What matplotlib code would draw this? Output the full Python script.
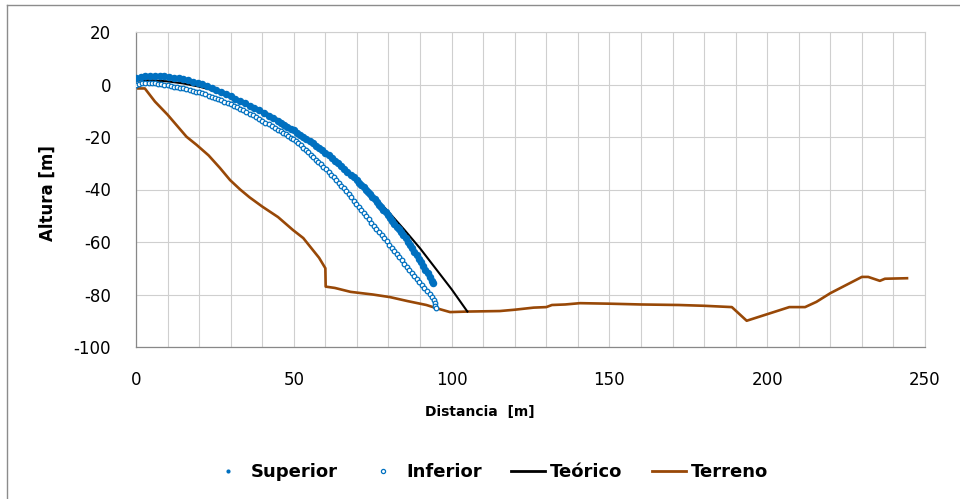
import matplotlib
matplotlib.use("Agg")
import matplotlib.pyplot as plt
from matplotlib.lines import Line2D

plt.rcParams["axes.unicode_minus"] = False

# --- data ---
sup_x = [0, 1.5, 3, 4.5, 6, 7.5, 9, 10.5, 12, 13.5, 15, 16.5, 18, 19.5, 21, 22.5, 24, 25.5, 27, 28.5,
         30, 31.5, 33, 34.5, 36, 37.5, 39, 40.5, 42, 43.5, 45,
         46, 47, 48, 49, 50, 51, 52, 53, 54, 55, 56, 57, 58, 59, 60, 61, 62, 63, 64, 65, 66, 67, 68, 69, 70,
         70.7, 71.4, 72.1, 72.8, 73.5, 74.2, 74.9, 75.6, 76.3, 77, 77.7, 78.4, 79.1, 79.8, 80.5, 81.2,
         81.9, 82.6, 83.3, 84, 84.7, 85.4, 86.1, 86.8, 87.5, 88.2, 88.9, 89.6, 90.3, 91, 91.7, 92.4,
         93.1, 93.8, 94.2]
sup_y = [2.5, 3.0, 3.3, 3.3, 3.3, 3.2, 3.1, 2.8, 2.6, 2.3, 2.0, 1.6, 1.1, 0.7, 0.1, -0.6, -1.3, -2.1, -2.9, -3.7,
         -4.5, -5.4, -6.3, -7.2, -8.1, -9.0, -9.9, -10.8, -11.9, -12.9, -14.0,
         -14.7, -15.4, -16.1, -16.8, -17.5, -18.3, -19.1, -19.9, -20.7, -21.5, -22.4, -23.3, -24.2, -25.1,
         -26.0, -27.0, -28.0, -29.0, -30.0, -31.0, -32.1, -33.2, -34.3, -35.4, -36.5,
         -37.4, -38.3, -39.2, -40.1, -41.0, -41.9, -42.9, -43.8, -44.8, -45.8, -46.8, -47.8, -48.7, -49.7,
         -50.8, -51.9, -53.0, -54.1, -55.2, -56.3, -57.4, -58.6, -59.9, -61.1, -62.4, -63.7, -65.0, -66.3,
         -67.7, -69.1, -70.5, -71.9, -73.3, -74.7, -75.5]

inf_x = [0, 1, 2, 3, 4, 5, 6, 7, 8, 9, 10, 11, 12, 13, 14, 15, 16, 17, 18, 19, 20, 21, 22, 23, 24, 25,
         26, 27, 28, 29, 30, 31, 32, 33, 34, 35, 36, 37, 38, 39, 40, 41, 42, 43, 44, 45,
         45.8, 46.6, 47.4, 48.2, 49, 49.8, 50.6, 51.4, 52.2, 53, 53.8, 54.6, 55.4, 56.2, 57, 57.8, 58.6,
         59.4, 60.2, 61, 61.8, 62.6, 63.4, 64.2, 65, 65.8, 66.6, 67.4, 68.2, 69, 69.8, 70.6, 71.4, 72.2,
         73, 73.8, 74.6, 75.4, 76.2, 77, 77.8, 78.6, 79.4, 80.2, 81, 81.8, 82.6, 83.4, 84.2, 85, 85.8,
         86.6, 87.4, 88.2, 89, 89.8, 90.6, 91.4, 92.2, 93, 93.8, 94.3, 94.6, 94.8, 94.9]
inf_y = [0.0, 0.2, 0.4, 0.5, 0.5, 0.5, 0.4, 0.3, 0.1, -0.1, -0.3, -0.5, -0.8, -1.0, -1.3, -1.5, -1.8,
         -2.1, -2.4, -2.7, -3.0, -3.4, -3.8, -4.2, -4.6, -5.0, -5.5, -6.0, -6.5, -7.0, -7.5, -8.1, -8.7,
         -9.3, -9.9, -10.5, -11.1, -11.8, -12.4, -13.1, -13.8, -14.5, -15.2, -15.8, -16.5, -17.2,
         -17.8, -18.4, -19.0, -19.6, -20.3, -20.9, -21.6, -22.4, -23.2, -24.1, -24.9, -25.8, -26.7, -27.6,
         -28.6, -29.5, -30.4, -31.3, -32.3, -33.3, -34.3, -35.3, -36.4, -37.4, -38.5, -39.6, -40.7, -41.8,
         -43.0, -44.2, -45.4, -46.6, -47.8, -49.0, -50.2, -51.4, -52.6, -53.8, -55.0, -56.2, -57.4, -58.6,
         -59.8, -61.0, -62.2, -63.4, -64.6, -65.8, -67.0, -68.2, -69.4, -70.6, -71.7, -72.9, -74.1, -75.3,
         -76.4, -77.6, -78.7, -79.9, -81.0, -82.2, -83.4, -84.5, -85.3]

teo_x = [0, 5, 10, 15, 20, 25, 30, 35, 40, 45, 50, 55, 60, 65, 70, 75, 80, 85, 90, 95, 100, 105]
teo_y = [1.5, 1.6, 1.2, 0.4, -0.8, -2.4, -4.5, -7.0, -9.9, -13.2, -17.0, -21.2, -25.8, -30.8, -36.3,
         -42.2, -48.5, -55.3, -62.4, -70.2, -78.0, -86.5]

ter_x = [0, 2.8, 6, 10, 16, 19.2, 23, 26.6, 29.8, 33, 36, 40, 45, 49.7, 53, 56, 58, 60, 60.1, 63, 68,
         75, 80.5, 86, 92, 96, 99.5, 105, 115.3, 120, 126, 130, 131.8, 136, 140.7, 150, 160, 172, 180,
         188.8, 193.5, 200, 207, 212, 215.6, 220, 225, 230, 232, 235.7, 237.3, 244.3]
ter_y = [-1.5, -1.5, -6.5, -11.5, -19.9, -23.0, -27.0, -31.8, -36.4, -40.0, -43.0, -46.5, -50.5, -55.4,
         -58.5, -63.0, -66.0, -70.0, -77.0, -77.5, -79.0, -80.0, -81.0, -82.5, -84.0, -85.5, -86.7, -86.5,
         -86.3, -85.8, -85.0, -84.8, -84.0, -83.8, -83.3, -83.5, -83.8, -84.0, -84.3, -84.8, -90.0, -87.5,
         -84.8, -84.8, -82.8, -79.5, -76.4, -73.3, -73.3, -74.8, -74.0, -73.8]

series_labels = ["Superior", "Inferior", "Teórico", "Terreno"]

blue = "#0070C0"
brown = "#984807"

fig = plt.figure(figsize=(9.6, 4.99), dpi=100)
ax = fig.add_axes([136 / 960, 1 - 347 / 499, (925 - 136) / 960, (347 - 32) / 499])

ax.plot(ter_x, ter_y, color=brown, lw=1.9, zorder=2)
ax.plot(teo_x, teo_y, color="black", lw=1.5, zorder=3)
ax.plot(inf_x, inf_y, ls="none", marker="o", ms=3.3, mfc="white", mec=blue, mew=0.9, zorder=4)
ax.plot(sup_x, sup_y, ls="none", marker="o", ms=5.4, mfc=blue, mec=blue, mew=0, zorder=5)

ax.set_xlim(0, 250)
ax.set_ylim(-100, 20)
ax.set_xticks(range(0, 251, 50))
ax.set_xticks(range(0, 251, 10), minor=True)
ax.set_yticks(range(-100, 21, 20))
ax.grid(True, which="both", color="#cfcfcf", lw=0.8)
ax.set_axisbelow(True)
ax.tick_params(which="both", length=0)
ax.tick_params(axis="x", pad=17, labelsize=12)
ax.tick_params(axis="y", pad=18, labelsize=12)
for s in ["top", "right"]:
    ax.spines[s].set_color("#cfcfcf")
    ax.spines[s].set_linewidth(0.8)
for s in ["left", "bottom"]:
    ax.spines[s].set_color("#888888")
    ax.spines[s].set_linewidth(0.9)

ax.set_xlabel("Distancia  [m]", fontsize=10, fontweight="bold")
ax.xaxis.set_label_coords(0.436, -0.206)
ax.xaxis.label.set_va("center")
ax.set_ylabel("Altura [m]", fontsize=12, fontweight="bold")
ax.yaxis.set_label_coords(-0.1115, 0.49)
ax.yaxis.label.set_va("center")

handles = [
    Line2D([], [], ls="none", marker="o", ms=3.0, mfc=blue, mec=blue, mew=0),
    Line2D([], [], ls="none", marker="o", ms=3.0, mfc="white", mec=blue, mew=0.9),
    Line2D([], [], color="black", lw=2),
    Line2D([], [], color=brown, lw=2),
]
fig.legend(handles, series_labels, loc="center", bbox_to_anchor=(0.51, 1 - 472 / 499), ncol=4,
           frameon=False, prop={"size": 13, "weight": "bold"}, handlelength=1.9,
           handletextpad=0.3, columnspacing=1.6, numpoints=1)

# outer chart border (only left and top visible in the crop)
fig.add_artist(Line2D([7 / 960, 7 / 960], [0, 1 - 5 / 499], transform=fig.transFigure, color="#8c8c8c", lw=1))
fig.add_artist(Line2D([7 / 960, 1], [1 - 5 / 499, 1 - 5 / 499], transform=fig.transFigure, color="#8c8c8c", lw=1))

fig.savefig("out.png", dpi=100)
